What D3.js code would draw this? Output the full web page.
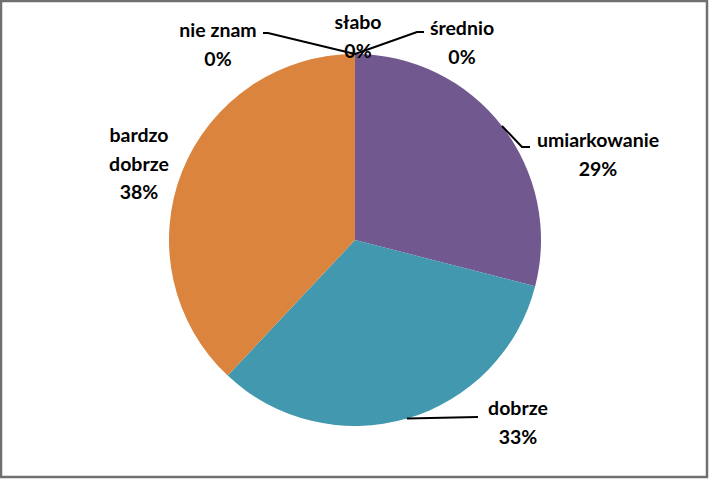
<!DOCTYPE html>
<html><head><meta charset="utf-8">
<script src="https://cdn.jsdelivr.net/npm/d3@7"></script>
<style>
html,body{margin:0;padding:0;background:#fff;}
svg{display:block;}
</style></head>
<body>
<script>
const categories = ["słabo","średnio","umiarkowanie","dobrze","bardzo dobrze","nie znam"];
const values = [0,0,29,33,38,0];
const colors = ["#4572A7","#AA4643","#71588F","#4198AF","#DB843D","#89A54E"];
const labelLines = [["słabo","0%"],["średnio","0%"],["umiarkowanie","29%"],["dobrze","33%"],["bardzo","dobrze","38%"],["nie znam","0%"]];

const W = 709, H = 479;
const cx = 355, cy = 240, R = 186;
// label layout: text center x, first baseline y, leader elbow points
const layout = [
  {x:358, y:29, elbow:null, lead:false},
  {x:462, y:35, elbow:[[417,32],[424,32]], lead:true},
  {x:598, y:147, elbow:[[522,147],[530,147]], lead:true},
  {x:518, y:415, elbow:[[478,417]], lead:true},
  {x:139, y:142, elbow:null, lead:false},
  {x:218, y:37, elbow:[[268,33],[263,33]], lead:true}
];
const lh = 28.5;

const svg = d3.select("body").append("svg").attr("width",W).attr("height",H);
svg.append("rect").attr("x",1).attr("y",1).attr("width",W-3).attr("height",H-3)
  .attr("fill","#fff").attr("stroke","#707070").attr("stroke-width",2.5);

const data = categories.map((c,i)=>({cat:c, value:values[i], color:colors[i], i}));
const pie = d3.pie().value(d=>d.value).sort(null).startAngle(0).endAngle(2*Math.PI);
const arcs = pie(data);
const arc = d3.arc().innerRadius(0).outerRadius(R);

const g = svg.append("g").attr("transform",`translate(${cx},${cy})`);
g.selectAll("path").data(arcs.filter(a=>a.data.value>0)).enter().append("path")
  .attr("d",arc).attr("fill",d=>d.data.color);

arcs.forEach((a,i)=>{
  const L = layout[i];
  if(!L.lead) return;
  const mid = (a.startAngle + a.endAngle)/2;
  const p0 = [cx + R*Math.sin(mid), cy - R*Math.cos(mid)];
  const pts = [p0].concat(L.elbow);
  svg.append("path").attr("d", d3.line()(pts)).attr("fill","none")
    .attr("stroke","#000").attr("stroke-width",2);
});

arcs.forEach((a,i)=>{
  const L = layout[i];
  const t = svg.append("text").attr("text-anchor","middle")
    .attr("font-family","Lato, 'Open Sans', sans-serif").attr("font-weight","bold")
    .attr("font-size",19.5).attr("fill","#000");
  labelLines[i].forEach((s,k)=>{
    t.append("tspan").attr("x",L.x).attr("y",L.y + k*lh).text(s);
  });
});
</script>
</body></html>
